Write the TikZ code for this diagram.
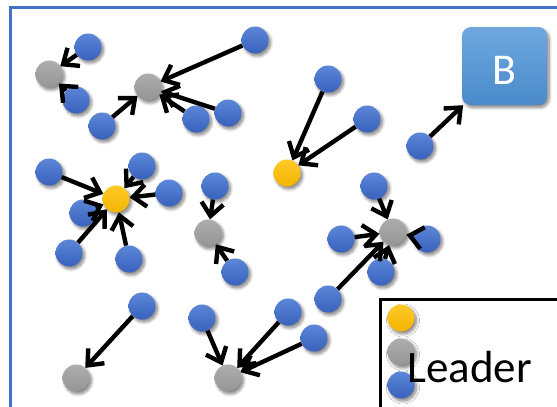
\documentclass[tikz,border=0pt]{standalone}
\usepackage{fontspec}
\newfontfamily\calib{Carlito}
\usetikzlibrary{arrows.meta,shadows.blur}
\definecolor{frameblue}{HTML}{4472C4}
\definecolor{dotblueA}{HTML}{5C86D8}
\definecolor{dotblueB}{HTML}{3862BC}
\definecolor{dotgrayA}{HTML}{ADADAD}
\definecolor{dotgrayB}{HTML}{959595}
\definecolor{dotyellowA}{HTML}{FFCA28}
\definecolor{dotyellowB}{HTML}{F2B400}
\definecolor{boxblueA}{HTML}{6EA8DE}
\definecolor{boxblueB}{HTML}{4A8ACB}
\tikzset{
  softshadow/.style={blur shadow={shadow xshift=2pt, shadow yshift=-2.5pt,
      shadow opacity=50, shadow blur steps=8, shadow blur radius=3pt}},
  dot/.style={circle, minimum size=27pt, inner sep=0pt, softshadow},
  member/.style={dot, top color=dotblueA, bottom color=dotblueB},
  leader/.style={dot, top color=dotgrayA, bottom color=dotgrayB},
  head/.style={dot, top color=dotyellowA, bottom color=dotyellowB},
  link/.style={draw=black, line width=4.4pt,
      -{Straight Barb[length=13pt, width=22pt, line width=4.4pt]}},
}
\begin{document}
\begin{tikzpicture}[x=1pt, y=-1pt]
\useasboundingbox (0,0) rectangle (557,407);
\clip (0,0) rectangle (557,407);
% outer frame
\draw[frameblue, line width=3pt] (10,7) rectangle (600,440);

% base station
\node[rounded corners=9pt, minimum width=85pt, minimum height=78pt,
      top color=boxblueA, bottom color=boxblueB, softshadow,
      text=white, font=\calib\fontsize{44}{44}\selectfont,
      text height=36pt, text depth=0pt] (bs) at (504.5,66) {B};

% nodes: top-left cluster
\node[member] (a1) at (88,47) {};
\node[leader] (g1) at (49,74) {};
\node[member] (a2) at (76,100) {};
\node[leader] (g2) at (148,87) {};
\node[member] (a3) at (255,40) {};
\node[member] (a4) at (102,126) {};
\node[member] (a5) at (196,119) {};
\node[member] (a6) at (228,113) {};
% top-middle
\node[member] (b1) at (328,79) {};
\node[member] (b2) at (367,119) {};
\node[head] (y2) at (287,173) {};
\node[member] (b3) at (420,146) {};
% left-middle cluster
\node[member] (c1) at (49,172) {};
\node[member] (c2) at (142,166) {};
\node[member] (c3) at (169,193) {};
\node[member] (c4) at (83,213) {};
\node[head] (y1) at (116,199) {};
\node[member] (c5) at (69,253) {};
\node[member] (c6) at (129,259) {};
\node[member] (d1) at (215,186) {};
\node[leader] (g3) at (208,233) {};
\node[member] (d2) at (235,272) {};
% right-middle cluster
\node[member] (b4) at (374,186) {};
\node[leader] (g4) at (393,232) {};
\node[member] (f2) at (341,239) {};
\node[member] (f3) at (427,239) {};
\node[member] (f4) at (381,272) {};
\node[member] (f5) at (328,299) {};
% bottom
\node[member] (h1) at (142,306) {};
\node[leader] (g5) at (76,378) {};
\node[member] (h2) at (202,318) {};
\node[leader] (g6) at (228,378) {};
\node[member] (j1) at (288,312) {};
\node[member] (j3) at (314,338) {};

% links
\draw[link] (a1) -- (g1);
\draw[link] (a2) -- (g1);
\draw[link] (a3) -- (g2);
\draw[link] (a4) -- (g2);
\draw[link] (a5) -- (g2);
\draw[link] (a6) -- (g2);
\draw[link] (b1) -- (y2);
\draw[link] (b2) -- (y2);
\draw[link] (b3) -- (bs);
\draw[link] (c1) -- (y1);
\draw[link] (c2) -- (y1);
\draw[link] (c3) -- (y1);
\draw[link] (c4) -- (y1);
\draw[link] (c5) -- (y1);
\draw[link] (c6) -- (y1);
\draw[link] (d1) -- (g3);
\draw[link] (d2) -- (g3);
\draw[link] (b4) -- (g4);
\draw[link] (f2) -- (g4);
\draw[link] (f3) -- (g4);
\draw[link] (f4) -- (g4);
\draw[link] (f5) -- (g4);
\draw[link] (h1) -- (g5);
\draw[link] (h2) -- (g6);
\draw[link] (j1) -- (g6);
\draw[link] (j3) -- (g6);

% legend
\draw[black, line width=3pt, fill=white] (380,299) rectangle (600,440);
\node[head] (ly) at (401,318) {};
\node[leader] (lg) at (401,352) {};
\node[member] (lb) at (401,385) {};
\node[anchor=base west, inner sep=0pt, font=\calib\fontsize{45}{45}\selectfont]
  (ltext) at (407,382) {Leader};
\end{tikzpicture}
\end{document}
